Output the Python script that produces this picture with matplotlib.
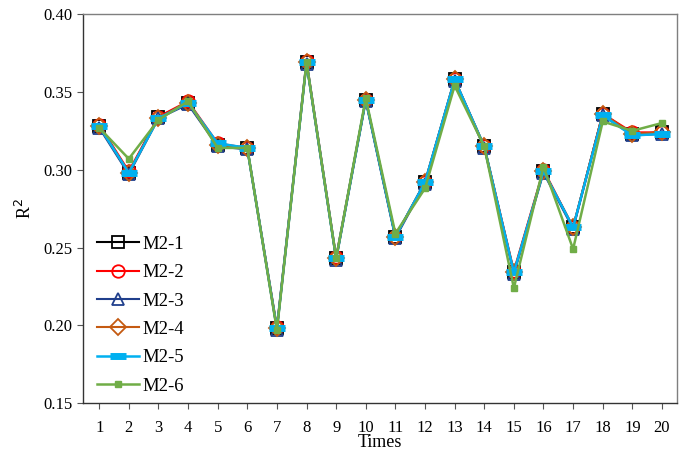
import numpy as np
import matplotlib
matplotlib.use('Agg')
import matplotlib.pyplot as plt

plt.rcParams['font.family'] = ['Liberation Serif', 'DejaVu Serif']

times = np.arange(1, 21)

m2_1 = [0.328, 0.298, 0.334, 0.343, 0.316, 0.314, 0.198, 0.369, 0.243, 0.345,
        0.257, 0.292, 0.358, 0.315, 0.234, 0.299, 0.263, 0.336, 0.323, 0.324]
m2_2 = [0.329, 0.299, 0.334, 0.344, 0.317, 0.314, 0.199, 0.370, 0.244, 0.345,
        0.257, 0.292, 0.358, 0.315, 0.235, 0.300, 0.263, 0.336, 0.324, 0.324]
m2_3 = [0.327, 0.297, 0.333, 0.342, 0.315, 0.313, 0.197, 0.368, 0.242, 0.344,
        0.256, 0.291, 0.357, 0.314, 0.233, 0.298, 0.262, 0.335, 0.322, 0.323]
m2_4 = [0.328, 0.298, 0.333, 0.343, 0.316, 0.314, 0.198, 0.369, 0.243, 0.345,
        0.257, 0.292, 0.358, 0.315, 0.234, 0.299, 0.263, 0.336, 0.323, 0.324]
m2_5 = [0.328, 0.298, 0.333, 0.343, 0.317, 0.314, 0.198, 0.369, 0.243, 0.345,
        0.257, 0.292, 0.358, 0.315, 0.234, 0.299, 0.263, 0.335, 0.322, 0.323]
m2_6 = [0.327, 0.307, 0.332, 0.344, 0.314, 0.314, 0.197, 0.369, 0.243, 0.346,
        0.259, 0.288, 0.354, 0.315, 0.224, 0.302, 0.249, 0.331, 0.325, 0.330]

labels = ['M2-1', 'M2-2', 'M2-3', 'M2-4', 'M2-5', 'M2-6']
series = [m2_1, m2_2, m2_3, m2_4, m2_5, m2_6]
colors = ['#000000', '#FF0000', '#203F8C', '#C55A11', '#00B0F0', '#70AD47']
markers = ['s', 'o', '^', 'D', '_', 's']

fig = plt.figure(figsize=(6.85, 4.55), dpi=100)
ax = fig.add_axes([0.121, 0.114, 0.867, 0.855])

for vals, lab, col, mk in zip(series, labels, colors, markers):
    if mk == '_':
        ax.plot(times, vals, color=col, lw=1.8, marker=mk, ms=12, mew=5, label=lab)
    elif lab == 'M2-6':
        ax.plot(times, vals, color=col, lw=1.8, marker=mk, ms=5, mfc=col, mec=col, label=lab)
    else:
        ms = 9 if mk != 'D' else 8
        ax.plot(times, vals, color=col, lw=1.5, marker=mk, ms=ms, mfc='none',
                mec=col, mew=1.3, label=lab)

ax.set_xlim(0.45, 20.5)
ax.set_ylim(0.15, 0.40)
ax.set_xticks(times)
ax.set_yticks([0.15, 0.20, 0.25, 0.30, 0.35, 0.40])
ax.set_yticklabels(['0.15', '0.20', '0.25', '0.30', '0.35', '0.40'])
ax.tick_params(labelsize=12, direction='out', length=4, color='#555555')
ax.tick_params(axis='x', pad=8)
for s in ax.spines.values():
    s.set_color('#7F7F7F')
    s.set_linewidth(1.0)
ax.spines['left'].set_color('#333333')
ax.spines['bottom'].set_color('#333333')

ax.set_xlabel('Times', fontsize=13, labelpad=-1)
ax.set_ylabel('R$^2$', fontsize=13, labelpad=6)

ax.legend(loc='lower left', bbox_to_anchor=(0.01, 0.0), frameon=False, fontsize=13.5,
          handlelength=2.2, handletextpad=0.2, labelspacing=0.6, borderaxespad=0.05)

fig.savefig('out.png', dpi=100)
